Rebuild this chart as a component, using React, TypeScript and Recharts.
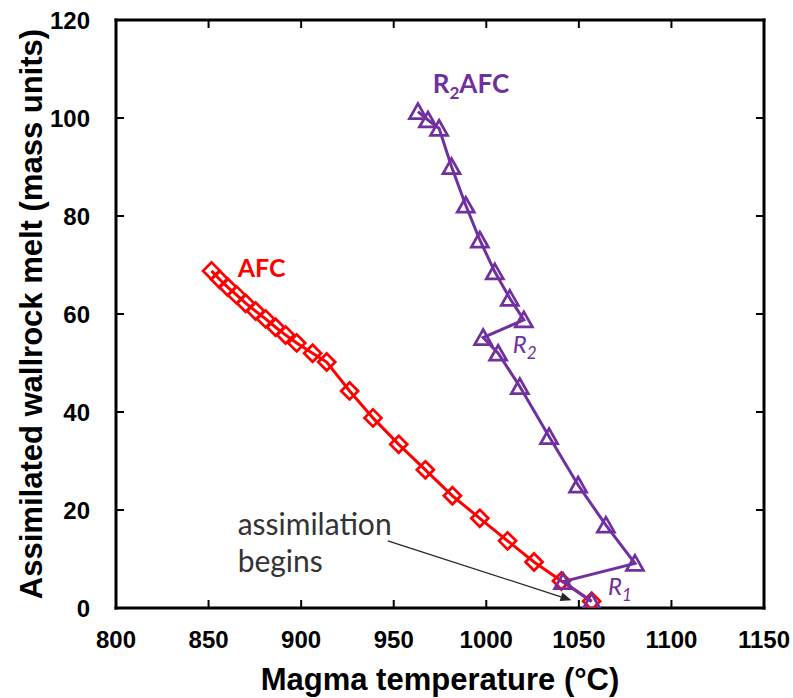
import { ScatterChart, Scatter, XAxis, YAxis, ReferenceLine, ReferenceDot } from 'recharts';

const TEMP_TICKS = [800, 850, 900, 950, 1000, 1050, 1100, 1150];
const MELT_TICKS = [0, 20, 40, 60, 80, 100, 120];

// AFC path, from where assimilation begins (hot end) to the cool end
const afcTemp = [1056.9, 1040.6, 1025.8, 1011.5, 996.5, 981.7, 967.1, 952.7, 938.8, 926.2, 913.8, 906.2, 897.6, 891.6, 886.2, 880.8, 875.4, 870.0, 865.1, 860.3, 855.9, 851.6];
const afcMelt = [1.4, 5.5, 9.4, 13.7, 18.3, 22.9, 28.2, 33.4, 38.8, 44.3, 50.2, 52.0, 54.1, 55.7, 57.3, 59.0, 60.6, 62.2, 63.9, 65.5, 67.1, 68.8];

// R2AFC path, with the two recharge jumps R1 and R2
const r2afcTemp = [1056.9, 1041.5, 1080.3, 1064.6, 1049.6, 1033.9, 1018.1, 1006.4, 998.3, 1020.3, 1012.7, 1004.6, 996.5, 988.9, 981.2, 974.5, 968.5, 963.1];
const r2afcMelt = [1.3, 5.4, 9.1, 16.9, 25.1, 35.0, 45.2, 52.0, 55.2, 58.8, 63.2, 68.6, 75.1, 82.2, 90.1, 97.9, 99.6, 101.3];

const RED = '#ff0000';
const PURPLE = '#7030a0';
const AXIS_FONT = "'Liberation Sans', Arial, sans-serif";
const NOTE_FONT = "Lato, 'Liberation Sans', sans-serif";
const TICK_LEN = 8;

const toPoints = (t: number[], m: number[]) => t.map((temp, i) => ({ temp, melt: m[i] }));

const Diamond = ({ cx, cy }: any) => {
  const r = 8.5;
  return (
    <polygon
      points={`${cx},${cy - r} ${cx + r},${cy} ${cx},${cy + r} ${cx - r},${cy}`}
      fill="none"
      stroke={RED}
      strokeWidth={2.75}
    />
  );
};

const Triangle = ({ cx, cy }: any) => (
  <polygon
    points={`${cx},${cy - 8} ${cx + 8.5},${cy + 7} ${cx - 8.5},${cy + 7}`}
    fill="none"
    stroke={PURPLE}
    strokeWidth={2.75}
  />
);

const Arrow = ({ x1, y1, x2, y2 }: any) => {
  const a = Math.atan2(y2 - y1, x2 - x1);
  const len = 11;
  const w = 4.5;
  const bx = x2 - len * Math.cos(a);
  const by = y2 - len * Math.sin(a);
  const px = -Math.sin(a) * w;
  const py = Math.cos(a) * w;
  return (
    <g>
      <line x1={x1} y1={y1} x2={bx} y2={by} stroke="#262626" strokeWidth={1.3} />
      <polygon points={`${x2},${y2} ${bx + px},${by + py} ${bx - px},${by - py}`} fill="#262626" />
    </g>
  );
};

// Excel-style inward tick marks: a reference line at a tick value, drawn only
// as two short stubs where it meets the frame at either end
const TickStubs = ({ x1, y1, x2, y2 }: any) => {
  const len = Math.hypot(x2 - x1, y2 - y1) || 1;
  const ux = ((x2 - x1) / len) * TICK_LEN;
  const uy = ((y2 - y1) / len) * TICK_LEN;
  return (
    <g>
      <line x1={x1} y1={y1} x2={x1 + ux} y2={y1 + uy} stroke="#000" strokeWidth={2} />
      <line x1={x2} y1={y2} x2={x2 - ux} y2={y2 - uy} stroke="#000" strokeWidth={2} />
    </g>
  );
};

const note = (content: any, style: any) => (p: any) => (
  <text x={p.cx} y={p.cy} fontFamily={NOTE_FONT} {...style}>
    {content}
  </text>
);

const axisLine = { stroke: '#000', strokeWidth: 3, strokeLinecap: 'square' as const };
const tickStyle = { fill: '#000', fontSize: 24, fontWeight: 700, fontFamily: AXIS_FONT };
const titleStyle = { fill: '#000', fontSize: 31, fontWeight: 700, fontFamily: AXIS_FONT };

export default function App() {
  return (
    <div style={{ position: 'absolute', left: 0, top: 0, background: '#fff' }}>
      <ScatterChart width={793} height={698} margin={{ top: 20, right: 29, bottom: 0, left: 0 }}>
        <XAxis
          dataKey="temp"
          type="number"
          domain={[800, 1150]}
          ticks={TEMP_TICKS}
          allowDataOverflow
          height={90}
          tickSize={0}
          tickMargin={23}
          axisLine={axisLine}
          tickLine={false}
          tick={tickStyle}
          label={{ value: 'Magma temperature (°C)', position: 'insideBottom', offset: 8, style: titleStyle }}
        />
        <YAxis
          dataKey="melt"
          type="number"
          domain={[0, 120]}
          ticks={MELT_TICKS}
          allowDataOverflow
          width={116}
          tickSize={0}
          tickMargin={26}
          axisLine={axisLine}
          tickLine={false}
          tick={tickStyle}
          label={{
            value: 'Assimilated wallrock melt (mass units)',
            angle: -90,
            position: 'insideLeft',
            offset: 31,
            style: { ...titleStyle, textAnchor: 'middle' },
          }}
        />

        {/* top and right sides of the frame */}
        <ReferenceLine y={120} {...axisLine} />
        <ReferenceLine x={1150} {...axisLine} />

        {TEMP_TICKS.map((t) => (
          <ReferenceLine key={`xt${t}`} x={t} shape={TickStubs} />
        ))}
        {MELT_TICKS.map((v) => (
          <ReferenceLine key={`yt${v}`} y={v} shape={TickStubs} />
        ))}

        <ReferenceLine segment={[{ x: 946.8, y: 13.7 }, { x: 1046, y: 1.6 }]} shape={Arrow} />

        <Scatter
          name="AFC"
          data={toPoints(afcTemp, afcMelt)}
          line={{ stroke: RED, strokeWidth: 3 }}
          shape={Diamond}
          isAnimationActive={false}
        />
        <Scatter
          name="R2AFC"
          data={toPoints(r2afcTemp, r2afcMelt)}
          line={{ stroke: PURPLE, strokeWidth: 3 }}
          shape={Triangle}
          isAnimationActive={false}
        />

        <ReferenceDot x={865.7} y={67.6} r={0} shape={note('AFC', { fill: RED, fontSize: 25, fontWeight: 700 })} />
        <ReferenceDot
          x={971.1}
          y={105.1}
          r={0}
          shape={note(
            <>
              R<tspan fontSize={17} dy={6}>2</tspan>
              <tspan dy={-6}>AFC</tspan>
            </>,
            { fill: PURPLE, fontSize: 26, fontWeight: 700 },
          )}
        />
        <ReferenceDot
          x={1014.3}
          y={52.0}
          r={0}
          shape={note(
            <>
              R<tspan fontSize={17} dy={6}>2</tspan>
            </>,
            { fill: PURPLE, fontSize: 24, fontStyle: 'italic' },
          )}
        />
        <ReferenceDot
          x={1065.7}
          y={2.7}
          r={0}
          shape={note(
            <>
              R<tspan fontSize={17} dy={6}>1</tspan>
            </>,
            { fill: PURPLE, fontSize: 24, fontStyle: 'italic' },
          )}
        />
        <ReferenceDot x={865.7} y={14.9} r={0} shape={note('assimilation', { fill: '#333', fontSize: 30 })} />
        <ReferenceDot x={865.7} y={7.3} r={0} shape={note('begins', { fill: '#333', fontSize: 30 })} />
      </ScatterChart>
    </div>
  );
}
